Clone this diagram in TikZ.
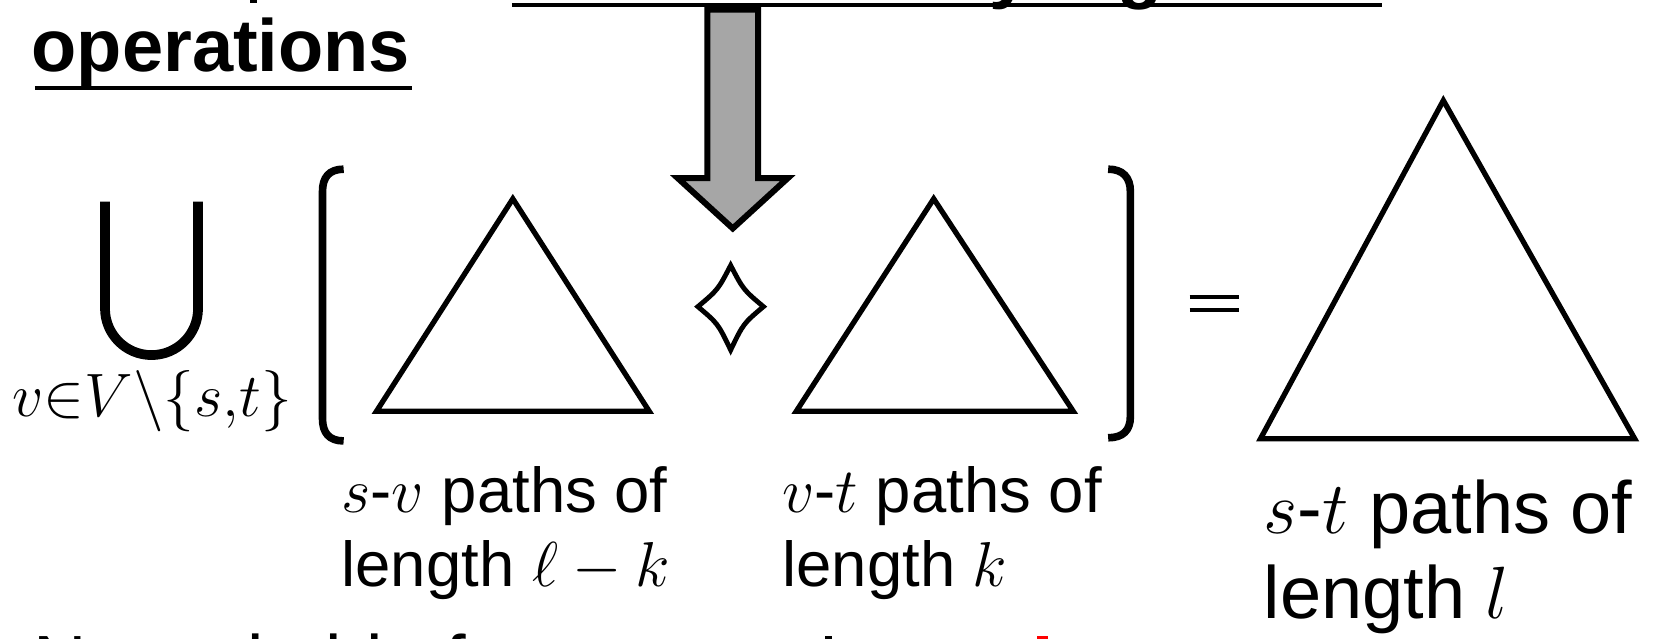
\RequirePackage{fix-cm}
\documentclass[tikz,border=0pt]{standalone}
\usepackage{fontspec}
\setmainfont{Liberation Sans}
\definecolor{arrowgray}{HTML}{A6A6A6}
\definecolor{alertred}{HTML}{FF0000}
\newcommand{\headfont}{\fontsize{35}{42}\selectfont\bfseries}
\newcommand{\bodyfont}{\fontsize{35}{42}\selectfont}
\newcommand{\lblfont}{\fontsize{30}{36}\selectfont}
\newcommand{\biglblfont}{\fontsize{35}{42}\selectfont}
\newcommand{\subfont}{\fontsize{29}{35}\selectfont}
\tikzset{
  txt/.style={anchor=base west, inner sep=0pt, outer sep=0pt},
  headtxt/.style={txt, font=\headfont},
  bodytxt/.style={txt, font=\bodyfont},
  lbltxt/.style={txt, font=\lblfont},
  biglbltxt/.style={txt, font=\biglblfont},
  uline/.style={line width=1.9pt},
  triline/.style={line width=2.5pt, line join=miter},
  bracketline/.style={line width=3.6pt},
  unionline/.style={line width=4.6pt},
  diamondline/.style={line width=2.3pt, line join=miter, miter limit=4},
  arrowbox/.style={draw=black, fill=arrowgray, line width=2.85pt, line join=miter},
  eqline/.style={line width=1.9pt}
}
\begin{document}
\begin{tikzpicture}[x=0.5pt,y=-0.5pt]
\useasboundingbox (0,0) rectangle (1568,604);
\fill[white] (0,0) rectangle (1568,604);
\clip (0,0) rectangle (1568,604);

% fragments of the heading above (cut off)
\node[headtxt] (hy) at (936,-5) {y};
\node[headtxt] (hg) at (1057,-5) {g};
\draw[uline] (484,4.5) -- (1307,4.5);
\fill (236.5,0) rectangle (243,3);

% heading "operations"
\node[headtxt] (ops) at (30,68) {operations};
\draw[uline] (33,83) -- (390,83);

% block arrow
\draw[arrowbox] (669,9) -- (717,9) -- (717,168.5) -- (745,168.5) -- (693,216) -- (641,168.5) -- (669,168.5) -- cycle;

% big union
\draw[unionline] (99.3,190.7) -- (99.3,291.8)
  .. controls (99.3,316.1) and (119,335.8) .. (143.3,335.8)
  .. controls (167.6,335.8) and (187.3,316.1) .. (187.3,291.8) -- (187.3,190.7);
\node[txt, font=\subfont] (sub) at (12,394) {$v{\in}V\backslash\{s{,}t\}$};

% brackets
\draw[bracketline] (325,160) .. controls (311,160) and (305,168) .. (305,181) -- (305,396)
  .. controls (305,409) and (311,417) .. (325,417);
\draw[bracketline] (1048,160) .. controls (1062,160) and (1069,168) .. (1069,181) -- (1069,394)
  .. controls (1069,407) and (1062,414) .. (1048,414);

% triangles
\draw[triline] (485,188) -- (614,389) -- (356,389) -- cycle;
\draw[triline] (883,188) -- (1015,389) -- (753,389) -- cycle;
\draw[triline] (1365,95) -- (1546,415) -- (1192,415) -- cycle;

% diamond operator
\draw[diamondline] (691,251) .. controls (703,274) .. (722,290)
  .. controls (703,306) .. (691,331)
  .. controls (679,306) .. (660,290)
  .. controls (679,274) .. cycle;

% equals sign
\draw[eqline] (1125,281) -- (1172,281);
\draw[eqline] (1125,293) -- (1172,293);

% labels
\node[lbltxt] (l1a) at (323,485) {$s$-$v$ paths of};
\node[lbltxt] (l1b) at (323,555) {length $\ell-k$};
\node[lbltxt] (l2a) at (740,485) {$v$-$t$ paths of};
\node[lbltxt] (l2b) at (740,555) {length $k$};
\node[biglbltxt] (l3a) at (1195,505) {$s$-$t$ paths of};
\node[biglbltxt] (l3b) at (1195,585) {length $l$};

% bottom line (cut off)
\node[bodytxt] (note) at (32,650) {Not suitable for};
\fill (780,601) rectangle (787,604);
\fill[alertred] (981,601) rectangle (991,604);
\end{tikzpicture}
\end{document}
